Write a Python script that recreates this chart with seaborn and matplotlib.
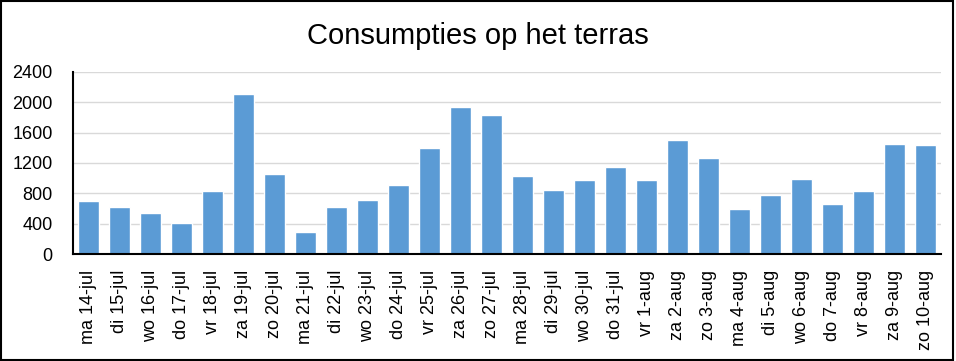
import numpy as np
import pandas as pd
import matplotlib
matplotlib.use('Agg')
import matplotlib.pyplot as plt
import seaborn as sns
from matplotlib.ticker import MultipleLocator
from matplotlib.patches import Rectangle

# data
dagen = ['ma 14-jul', 'di 15-jul', 'wo 16-jul', 'do 17-jul', 'vr 18-jul', 'za 19-jul', 'zo 20-jul',
         'ma 21-jul', 'di 22-jul', 'wo 23-jul', 'do 24-jul', 'vr 25-jul', 'za 26-jul', 'zo 27-jul',
         'ma 28-jul', 'di 29-jul', 'wo 30-jul', 'do 31-jul', 'vr 1-aug', 'za 2-aug', 'zo 3-aug',
         'ma 4-aug', 'di 5-aug', 'wo 6-aug', 'do 7-aug', 'vr 8-aug', 'za 9-aug', 'zo 10-aug']
consumpties = [700, 620, 540, 410, 830, 2100, 1060,
               290, 620, 715, 910, 1400, 1935, 1830,
               1030, 845, 975, 1150, 975, 1500, 1265,
               595, 780, 990, 660, 830, 1450, 1435]
y_ticks = [0, 400, 800, 1200, 1600, 2000, 2400]

df = pd.DataFrame({'dag': dagen, 'aantal': consumpties})

sns.set_style('white')
plt.rcParams['font.family'] = ['Liberation Sans', 'DejaVu Sans']
plt.rcParams['text.color'] = 'black'
plt.rcParams['xtick.color'] = 'black'
plt.rcParams['ytick.color'] = 'black'

fig = plt.figure(figsize=(9.56, 3.61), dpi=100)
ax = fig.add_axes([0.076, 0.2956, 0.908, 0.506])

sns.barplot(data=df, x='dag', y='aantal', color='#5B9BD5', saturation=1, width=0.68, ax=ax)

ax.set_xlim(-0.5, len(dagen) - 0.5)
ax.set_ylim(0, 2400)
ax.set_yticks(y_ticks)
ax.yaxis.set_minor_locator(MultipleLocator(200))
ax.grid(axis='y', color='#D9D9D9', linewidth=1)
ax.set_axisbelow(True)

ax.set_xticks(range(len(dagen)))
ax.set_xticklabels(dagen, rotation=90, fontsize=13)
ax.set_xticks(np.arange(-0.5, len(dagen)), minor=True)
ax.tick_params(axis='x', which='major', length=0, pad=11)
ax.tick_params(axis='x', which='minor', length=4.5, width=1.2, color='black', direction='out')
ax.tick_params(axis='y', which='major', length=4.5, width=1.2, color='black', direction='out',
               labelsize=13, pad=10)
ax.tick_params(axis='y', which='minor', length=4.5, width=1.2, color='black', direction='out')

for s in ['top', 'right']:
    ax.spines[s].set_visible(False)
for s in ['left', 'bottom']:
    ax.spines[s].set_color('black')
    ax.spines[s].set_linewidth(1.5)

ax.set_xlabel('')
ax.set_ylabel('')
fig.suptitle('Consumpties op het terras', fontsize=21, y=0.94)

fig.patches.append(Rectangle((0.001, 0.003), 0.996, 0.994, transform=fig.transFigure,
                             fill=False, edgecolor='black', linewidth=1.5))

fig.savefig('out.png', dpi=100)
